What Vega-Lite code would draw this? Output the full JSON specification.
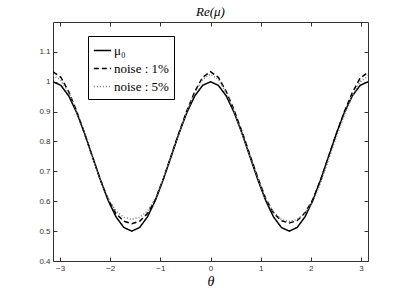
{
  "$schema": "https://vega.github.io/schema/vega-lite/v6.json",
  "autosize": "none",
  "width": 315,
  "height": 239,
  "padding": {"left": 53, "top": 22, "right": 39, "bottom": 33},
  "background": "white",
  "title": {"text": "Re(μ)", "font": "'Liberation Serif', 'DejaVu Serif', serif", "fontStyle": "italic", "fontWeight": "normal", "fontSize": 13, "color": "#000", "offset": 3},
  "config": {
    "view": {"stroke": "#333", "strokeWidth": 1},
    "axis": {"domain": false, "grid": false, "tickColor": "#333", "tickSize": -4, "labelFont": "Liberation Sans", "labelFontSize": 8, "labelColor": "#333", "labelPadding": 7}
  },
  "data": {"values": [
    {"t": -3.1416, "mu0": 1.0000, "n1": 1.033, "n5": 1.022},
    {"t": -2.9845, "mu0": 0.9878, "n1": 1.015, "n5": 1.005},
    {"t": -2.8274, "mu0": 0.9523, "n1": 0.966, "n5": 0.963},
    {"t": -2.6704, "mu0": 0.8970, "n1": 0.902, "n5": 0.901},
    {"t": -2.5133, "mu0": 0.8273, "n1": 0.828, "n5": 0.828},
    {"t": -2.3562, "mu0": 0.7500, "n1": 0.750, "n5": 0.750},
    {"t": -2.1991, "mu0": 0.6728, "n1": 0.673, "n5": 0.674},
    {"t": -2.0420, "mu0": 0.6031, "n1": 0.606, "n5": 0.609},
    {"t": -1.8850, "mu0": 0.5478, "n1": 0.559, "n5": 0.567},
    {"t": -1.7279, "mu0": 0.5122, "n1": 0.533, "n5": 0.546},
    {"t": -1.5708, "mu0": 0.5000, "n1": 0.525, "n5": 0.540},
    {"t": -1.4137, "mu0": 0.5122, "n1": 0.533, "n5": 0.546},
    {"t": -1.2566, "mu0": 0.5478, "n1": 0.559, "n5": 0.567},
    {"t": -1.0996, "mu0": 0.6031, "n1": 0.606, "n5": 0.609},
    {"t": -0.9425, "mu0": 0.6728, "n1": 0.674, "n5": 0.674},
    {"t": -0.7854, "mu0": 0.7500, "n1": 0.752, "n5": 0.751},
    {"t": -0.6283, "mu0": 0.8273, "n1": 0.830, "n5": 0.827},
    {"t": -0.4712, "mu0": 0.8970, "n1": 0.903, "n5": 0.901},
    {"t": -0.3142, "mu0": 0.9523, "n1": 0.967, "n5": 0.963},
    {"t": -0.1571, "mu0": 0.9878, "n1": 1.015, "n5": 1.008},
    {"t": 0.0000, "mu0": 1.0000, "n1": 1.034, "n5": 1.025},
    {"t": 0.1571, "mu0": 0.9878, "n1": 1.015, "n5": 1.008},
    {"t": 0.3142, "mu0": 0.9523, "n1": 0.967, "n5": 0.963},
    {"t": 0.4712, "mu0": 0.8970, "n1": 0.905, "n5": 0.901},
    {"t": 0.6283, "mu0": 0.8273, "n1": 0.833, "n5": 0.829},
    {"t": 0.7854, "mu0": 0.7500, "n1": 0.756, "n5": 0.754},
    {"t": 0.9425, "mu0": 0.6728, "n1": 0.679, "n5": 0.678},
    {"t": 1.0996, "mu0": 0.6031, "n1": 0.610, "n5": 0.608},
    {"t": 1.2566, "mu0": 0.5478, "n1": 0.561, "n5": 0.563},
    {"t": 1.4137, "mu0": 0.5122, "n1": 0.535, "n5": 0.539},
    {"t": 1.5708, "mu0": 0.5000, "n1": 0.527, "n5": 0.532},
    {"t": 1.7279, "mu0": 0.5122, "n1": 0.535, "n5": 0.539},
    {"t": 1.8850, "mu0": 0.5478, "n1": 0.561, "n5": 0.560},
    {"t": 2.0420, "mu0": 0.6031, "n1": 0.606, "n5": 0.598},
    {"t": 2.1991, "mu0": 0.6728, "n1": 0.673, "n5": 0.663},
    {"t": 2.3562, "mu0": 0.7500, "n1": 0.750, "n5": 0.740},
    {"t": 2.5133, "mu0": 0.8273, "n1": 0.827, "n5": 0.817},
    {"t": 2.6704, "mu0": 0.8970, "n1": 0.900, "n5": 0.890},
    {"t": 2.8274, "mu0": 0.9523, "n1": 0.963, "n5": 0.952},
    {"t": 2.9845, "mu0": 0.9878, "n1": 1.012, "n5": 1.000},
    {"t": 3.1416, "mu0": 1.0000, "n1": 1.032, "n5": 1.020}
  ]},
  "transform": [
    {"fold": ["mu0", "n1", "n5"], "as": ["key", "value"]},
    {"lookup": "key", "from": {"data": {"values": [
      {"key": "mu0", "series": "μ₀"},
      {"key": "n1", "series": "noise : 1%"},
      {"key": "n5", "series": "noise : 5%"}
    ]}, "key": "key", "fields": ["series"]}}
  ],
  "layer": [
    {
      "mark": {"type": "line", "strokeWidth": 1.5, "clip": true},
      "encoding": {
        "x": {"field": "t", "type": "quantitative", "scale": {"domain": [-3.1416, 3.1416], "nice": false, "zero": false},
              "axis": {"orient": "bottom", "values": [-3, -2, -1, 0, 1, 2, 3], "title": "θ", "titleFont": "'Liberation Serif', 'DejaVu Serif', serif", "titleFontStyle": "italic", "titleFontWeight": "normal", "titleFontSize": 14, "titleColor": "#000", "titlePadding": 2}},
        "y": {"field": "value", "type": "quantitative", "scale": {"domain": [0.4, 1.2], "nice": false, "zero": false},
              "axis": {"orient": "left", "values": [0.4, 0.5, 0.6, 0.7, 0.8, 0.9, 1, 1.1], "format": "~g", "title": null}},
        "color": {"field": "series", "type": "nominal", "scale": {"domain": ["μ₀", "noise : 1%", "noise : 5%"], "range": ["#000000", "#000000", "#777777"]},
                  "legend": {"title": null, "orient": "none", "legendX": 35, "legendY": 14, "strokeColor": "#000", "fillColor": "#fff", "padding": 5, "labelFont": "'Liberation Serif', 'DejaVu Serif', serif", "labelFontSize": 13, "labelColor": "#000", "symbolType": "stroke", "symbolSize": 300, "symbolStrokeWidth": 1.5, "rowPadding": 1, "labelOffset": 2}},
        "strokeDash": {"field": "series", "type": "nominal", "scale": {"domain": ["μ₀", "noise : 1%", "noise : 5%"], "range": [[1, 0], [5, 3], [1, 2]]},
                  "legend": {"title": null, "orient": "none", "legendX": 35, "legendY": 14, "strokeColor": "#000", "fillColor": "#fff", "padding": 5, "labelFont": "'Liberation Serif', 'DejaVu Serif', serif", "labelFontSize": 13, "labelColor": "#000", "symbolType": "stroke", "symbolSize": 300, "symbolStrokeWidth": 1.5, "rowPadding": 1, "labelOffset": 2}}
      }
    },
    {
      "mark": {"type": "line", "opacity": 0},
      "encoding": {
        "x": {"field": "t", "type": "quantitative", "axis": {"orient": "top", "values": [-3, -2, -1, 0, 1, 2, 3], "labels": false, "title": null}},
        "y": {"field": "value", "type": "quantitative", "axis": {"orient": "right", "values": [0.4, 0.5, 0.6, 0.7, 0.8, 0.9, 1, 1.1], "labels": false, "title": null}}
      }
    }
  ],
  "resolve": {"axis": {"x": "independent", "y": "independent"}}
}
